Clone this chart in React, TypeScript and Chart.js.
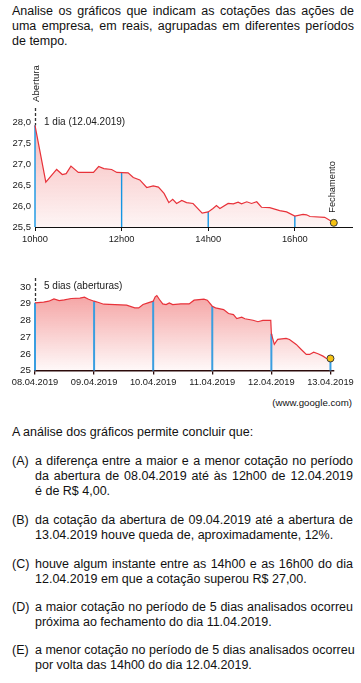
import React, { useEffect, useRef } from 'react';
import { Chart, registerables } from 'chart.js';

Chart.register(...registerables);

const FONT = '"Liberation Sans", Arial, Helvetica, sans-serif';
const RED = '#e8323a';
const BLUE1 = '#1595e3';
const BLUE2 = '#3a9ee0';
const TXT = '#1a1a1a';

// ---- Chart 1: 1 dia (12.04.2019) ----
const dayTitle = '1 dia (12.04.2019)';
const dayTimes = [
  10.0, 10.25, 10.5, 10.63, 10.72, 10.83, 11.0, 11.35, 11.47, 11.59, 11.77, 11.89,
  12.15, 12.27, 12.42, 12.58, 12.73, 12.85, 12.98, 13.09, 13.18, 13.27, 13.39, 13.5,
  13.65, 13.86, 14.0, 14.11, 14.19, 14.27, 14.46, 14.58, 14.69, 14.77, 14.89, 15.0,
  15.12, 15.23, 15.42, 15.65, 15.81, 16.0, 16.19, 16.27, 16.35, 16.69, 16.9,
];
const dayValues = [
  27.92, 26.57, 26.87, 26.75, 26.77, 26.95, 26.8, 26.8, 26.94, 26.89, 26.87, 26.8,
  26.79, 26.68, 26.62, 26.44, 26.48, 26.45, 26.3, 26.08, 26.16, 26.06, 26.13, 26.08,
  26.06, 25.83, 25.86, 25.94, 26.01, 25.94, 26.06, 26.05, 26.09, 26.05, 26.1, 26.06,
  26.1, 25.97, 25.96, 25.89, 25.86, 25.76, 25.8, 25.79, 25.75, 25.73, 25.6,
];
const dayHourTicks = [10, 12, 14, 16];
const dayYMin = 25.5;
const dayYMax = 28.0;
const dayYStep = 0.5;
const dayXMax = 17.32;

// ---- Chart 2: 5 dias (aberturas) ----
const weekTitle = '5 dias (aberturas)';
const weekPos = [
  0.0, 0.146, 0.233, 0.321, 0.409, 0.496, 0.614, 0.76, 0.837, 0.907, 1.0, 1.078,
  1.162, 1.355, 1.55, 1.688, 1.755, 1.828, 1.912, 2.0, 2.034, 2.062, 2.106, 2.162,
  2.218, 2.273, 2.33, 2.469, 2.608, 2.692, 2.859, 2.916, 3.0, 3.055, 3.192, 3.275,
  3.358, 3.415, 3.498, 3.552, 3.69, 3.773, 3.856, 3.99, 4.0, 4.05, 4.107, 4.25,
  4.307, 4.421, 4.506, 4.591, 4.647, 4.716, 4.789, 4.874, 4.932, 5.0,
];
const weekValues = [
  29.05, 29.09, 29.15, 29.29, 29.19, 29.23, 29.31, 29.33, 29.39, 29.27, 29.15, 29.07,
  28.97, 28.95, 28.91, 28.75, 28.75, 28.95, 29.05, 29.15, 29.41, 29.49, 29.25, 28.99,
  28.95, 29.05, 28.95, 28.99, 28.99, 29.21, 29.27, 29.21, 28.85, 28.75, 28.65, 28.41,
  28.35, 28.11, 28.19, 28.1, 28.01, 27.92, 28.0, 28.0, 27.2, 26.56, 26.86, 26.92,
  26.86, 26.56, 26.26, 25.96, 25.96, 26.1, 26.0, 25.86, 25.72, 25.72,
];
const weekDateLabels = ['08.04.2019', '09.04.2019', '10.04.2019', '11.04.2019', '12.04.2019', '13.04.2019'];
const weekYMin = 25;
const weekYMax = 30;
const weekXMax = 5.06;

function interp(xs: number[], ys: number[], x: number): number {
  if (x <= xs[0]) return ys[0];
  for (let i = 1; i < xs.length; i++) {
    if (x <= xs[i]) {
      const f = (x - xs[i - 1]) / (xs[i] - xs[i - 1]);
      return ys[i - 1] + f * (ys[i] - ys[i - 1]);
    }
  }
  return ys[ys.length - 1];
}

function gradient(a0: number, a1: number) {
  return (ctx: any) => {
    const ch = ctx.chart;
    const area = ch.chartArea;
    if (!area) return `rgba(232,55,55,${a0})`;
    const g = ch.ctx.createLinearGradient(0, area.top, 0, area.bottom);
    g.addColorStop(0, `rgba(232,55,55,${a0})`);
    g.addColorStop(1, `rgba(232,55,55,${a1})`);
    return g;
  };
}

function makeAnnot(opts: { title: string; xs: number[]; ys: number[]; dashAbove: number; titleDy: number; abertura: boolean; fechamento: boolean }) {
  return {
    id: 'annot',
    afterDatasetsDraw(chart: any) {
      const { ctx, chartArea } = chart;
      const xs = chart.scales.x;
      const ys = chart.scales.y;
      const x0 = Math.round(xs.getPixelForValue(opts.xs[0])) + 0.5;
      const y0 = ys.getPixelForValue(opts.ys[0]);
      ctx.save();
      ctx.strokeStyle = '#333';
      ctx.lineWidth = 1.3;
      ctx.setLineDash([3, 2]);
      ctx.beginPath();
      ctx.moveTo(x0, chartArea.top - opts.dashAbove);
      ctx.lineTo(x0, y0);
      ctx.stroke();
      ctx.setLineDash([]);
      ctx.fillStyle = TXT;
      ctx.font = `10px ${FONT}`;
      ctx.textAlign = 'left';
      ctx.textBaseline = 'middle';
      ctx.fillText(opts.title, x0 + 8.5, chartArea.top + opts.titleDy);
      if (opts.abertura) {
        ctx.save();
        ctx.translate(x0, chartArea.top - 20);
        ctx.rotate(-Math.PI / 2);
        ctx.font = `9.6px ${FONT}`;
        ctx.fillText('Abertura', 0, 0.5);
        ctx.restore();
      }
      if (opts.fechamento) {
        const n = opts.xs.length - 1;
        const xc = xs.getPixelForValue(opts.xs[n]);
        const yc = ys.getPixelForValue(opts.ys[n]);
        ctx.save();
        ctx.translate(xc - 1, yc - 10);
        ctx.rotate(-Math.PI / 2);
        ctx.font = `9.3px ${FONT}`;
        ctx.fillText('Fechamento', 0, 0);
        ctx.restore();
      }
      ctx.restore();
    },
  };
}

function buildDayChart(canvas: HTMLCanvasElement) {
  const n = dayTimes.length - 1;
  const pts = dayTimes.map((t, i) => ({ x: t, y: dayValues[i] }));
  const blue = dayHourTicks.map((h) => ({
    data: [{ x: h, y: dayYMin }, { x: h, y: interp(dayTimes, dayValues, h) }],
    borderColor: BLUE1,
    borderWidth: 1.4,
    pointRadius: 0,
    fill: false,
    clip: false as any,
    order: 2,
  }));
  return new Chart(canvas, {
    type: 'line',
    data: {
      datasets: [
        {
          data: [{ x: dayTimes[n], y: dayValues[n] }],
          showLine: false,
          pointRadius: 3.5,
          pointBackgroundColor: '#f5c211',
          pointBorderColor: '#3a3a3a',
          pointBorderWidth: 1,
          clip: false as any,
          order: 0,
        },
        {
          data: pts,
          borderColor: RED,
          borderWidth: 1.2,
          pointRadius: 0,
          tension: 0,
          fill: 'start',
          backgroundColor: gradient(0.36, 0.05),
          clip: false as any,
          order: 1,
        },
        ...blue,
      ] as any,
    },
    options: {
      responsive: false,
      animation: false,
      devicePixelRatio: 1,
      layout: { padding: { top: 62, right: 9, left: 0, bottom: 0 } },
      plugins: {
        legend: { display: false },
        tooltip: { enabled: false },
        filler: { drawTime: 'beforeDatasetsDraw' } as any,
      },
      scales: {
        x: {
          type: 'linear',
          min: 10,
          max: dayXMax,
          afterBuildTicks: (s: any) => {
            s.ticks = dayHourTicks.map((v) => ({ value: v }));
          },
          afterFit: (s: any) => {
            s.height = 28;
          },
          grid: { drawOnChartArea: false, drawTicks: true, tickLength: 4, color: '#111', lineWidth: 1 },
          border: { display: true, color: '#111', width: 1 },
          ticks: {
            autoSkip: false,
            maxRotation: 0,
            padding: 3,
            color: TXT,
            font: { family: FONT, size: 9.3 },
            callback: (v: any) => `${v}h00`,
          },
        },
        y: {
          type: 'linear',
          min: dayYMin,
          max: dayYMax,
          afterFit: (s: any) => {
            s.width = 35;
          },
          grid: { display: false, drawTicks: false },
          border: { display: false },
          ticks: {
            stepSize: dayYStep,
            padding: 4,
            color: TXT,
            font: { family: FONT, size: 9.5 },
            callback: (v: any) => Number(v).toFixed(1).replace('.', ','),
          },
        },
      },
    },
    plugins: [makeAnnot({ title: dayTitle, xs: dayTimes, ys: dayValues, dashAbove: 14, titleDy: 0, abertura: true, fechamento: true })],
  });
}

function buildWeekChart(canvas: HTMLCanvasElement) {
  const n = weekPos.length - 1;
  const pts = weekPos.map((t, i) => ({ x: t, y: weekValues[i] }));
  const blue = weekDateLabels.map((_, d) => ({
    data: [{ x: d, y: weekYMin }, { x: d, y: interp(weekPos, weekValues, d) }],
    borderColor: BLUE2,
    borderWidth: 2,
    pointRadius: 0,
    fill: false,
    clip: false as any,
    order: 2,
  }));
  return new Chart(canvas, {
    type: 'line',
    data: {
      datasets: [
        {
          data: [{ x: weekPos[n], y: weekValues[n] }],
          showLine: false,
          pointRadius: 3.5,
          pointBackgroundColor: '#f5c211',
          pointBorderColor: '#3a3a3a',
          pointBorderWidth: 1,
          clip: false as any,
          order: 0,
        },
        {
          data: pts,
          borderColor: RED,
          borderWidth: 1.2,
          pointRadius: 0,
          tension: 0,
          fill: 'start',
          backgroundColor: gradient(0.5, 0.03),
          clip: false as any,
          order: 1,
        },
        ...blue,
      ] as any,
    },
    options: {
      responsive: false,
      animation: false,
      devicePixelRatio: 1,
      layout: { padding: { top: 22, right: 27, left: 0, bottom: 0 } },
      plugins: {
        legend: { display: false },
        tooltip: { enabled: false },
        filler: { drawTime: 'beforeDatasetsDraw' } as any,
      },
      scales: {
        x: {
          type: 'linear',
          min: 0,
          max: weekXMax,
          afterBuildTicks: (s: any) => {
            s.ticks = weekDateLabels.map((_, i) => ({ value: i }));
          },
          afterFit: (s: any) => {
            s.height = 24.5;
          },
          grid: { drawOnChartArea: false, drawTicks: true, tickLength: 4, color: '#2b0b0b', lineWidth: 1.3 },
          border: { display: true, color: '#2b0b0b', width: 1.5 },
          ticks: {
            autoSkip: false,
            maxRotation: 0,
            padding: 2,
            color: TXT,
            font: { family: FONT, size: 9.3 },
            callback: (v: any) => weekDateLabels[Math.round(Number(v))] ?? '',
          },
        },
        y: {
          type: 'linear',
          min: weekYMin,
          max: weekYMax,
          afterFit: (s: any) => {
            s.width = 35;
          },
          grid: { display: false, drawTicks: false },
          border: { display: false },
          ticks: {
            stepSize: 1,
            padding: 4,
            color: TXT,
            font: { family: FONT, size: 9.8 },
            callback: (v: any) => String(v),
          },
        },
      },
    },
    plugins: [makeAnnot({ title: weekTitle, xs: weekPos, ys: weekValues, dashAbove: 9, titleDy: -1, abertura: false, fechamento: false })],
  });
}

const introLines = [
  'Analise os gráficos que indicam as cotações das ações de',
  'uma empresa, em reais, agrupadas em diferentes períodos',
  'de tempo.',
];
const questionLine = 'A análise dos gráficos permite concluir que:';
const options: { label: string; top: number; lines: string[] }[] = [
  { label: '(A)', top: 454.3, lines: ['a diferença entre a maior e a menor cotação no período', 'da abertura de 08.04.2019 até às 12h00 de 12.04.2019', 'é de R$ 4,00.'] },
  { label: '(B)', top: 513.3, lines: ['da cotação da abertura de 09.04.2019 até a abertura de', '13.04.2019 houve queda de, aproximadamente, 12%.'] },
  { label: '(C)', top: 556.8, lines: ['houve algum instante entre as 14h00 e as 16h00 do dia', '12.04.2019 em que a cotação superou R$ 27,00.'] },
  { label: '(D)', top: 599.8, lines: ['a maior cotação no período de 5 dias analisados ocorreu', 'próxima ao fechamento do dia 11.04.2019.'] },
  { label: '(E)', top: 643.3, lines: ['a menor cotação no período de 5 dias analisados ocorreu', 'por volta das 14h00 do dia 12.04.2019.'] },
];

function Lines({ left, top, width, lines }: { left: number; top: number; width: number; lines: string[] }) {
  return (
    <>
      {lines.map((t, i) => {
        const last = i === lines.length - 1;
        return (
          <div
            key={i}
            style={{
              position: 'absolute',
              left,
              top: top + i * 15,
              width,
              fontSize: 12.5,
              lineHeight: '15px',
              whiteSpace: 'nowrap',
              textAlign: last ? 'left' : 'justify',
              textAlignLast: last ? 'left' : 'justify',
            } as any}
          >
            {t}
          </div>
        );
      })}
    </>
  );
}

export default function App() {
  const c1 = useRef<HTMLCanvasElement>(null);
  const c2 = useRef<HTMLCanvasElement>(null);
  useEffect(() => {
    const a = buildDayChart(c1.current!);
    const b = buildWeekChart(c2.current!);
    return () => {
      a.destroy();
      b.destroy();
    };
  }, []);
  return (
    <div style={{ position: 'absolute', left: 0, top: 0, width: 361, height: 683, background: '#fff', color: '#111', fontFamily: FONT, overflow: 'hidden' }}>
      <Lines left={12} top={4} width={342} lines={introLines} />
      <canvas ref={c1} width={361} height={195} style={{ position: 'absolute', left: 0, top: 60, width: 361, height: 195 }} />
      <canvas ref={c2} width={361} height={130} style={{ position: 'absolute', left: 0, top: 265, width: 361, height: 130 }} />
      <div style={{ position: 'absolute', left: 0, top: 397, width: 352, textAlign: 'right', fontSize: 9.7, lineHeight: '12px' }}>(www.google.com)</div>
      <Lines left={12} top={424.6} width={342} lines={[questionLine]} />
      {options.map((o) => (
        <React.Fragment key={o.label}>
          <div style={{ position: 'absolute', left: 12, top: o.top, fontSize: 12.5, lineHeight: '15px' }}>{o.label}</div>
          <Lines left={35} top={o.top} width={318} lines={o.lines} />
        </React.Fragment>
      ))}
    </div>
  );
}
